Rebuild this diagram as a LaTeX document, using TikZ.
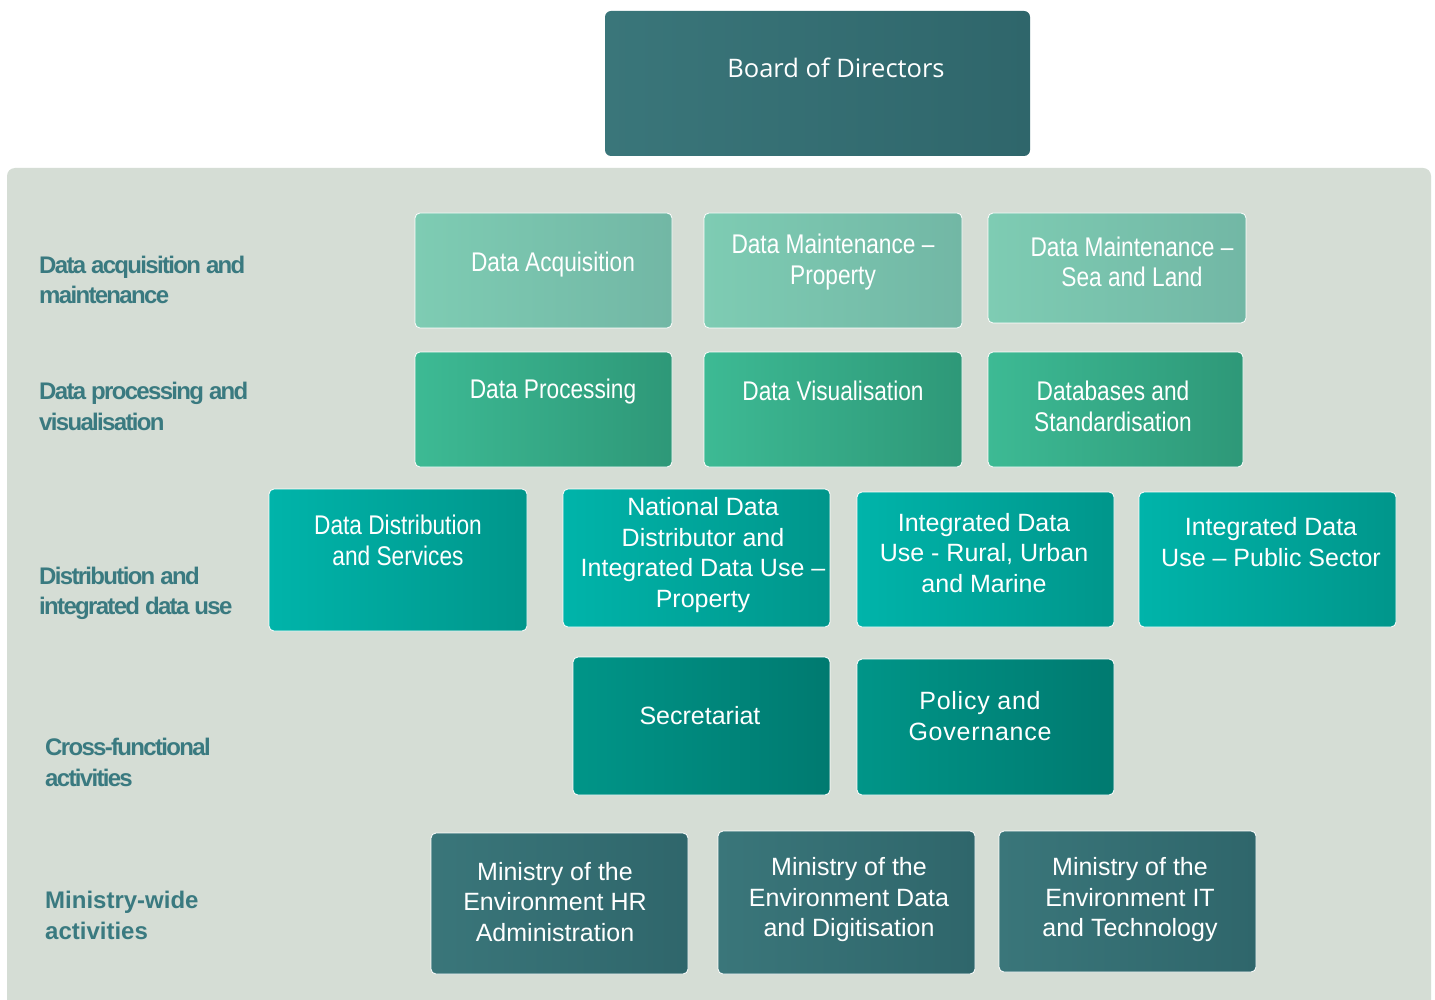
\documentclass[tikz,border=0pt]{standalone}
\usepackage{fontspec}
\setmainfont{Liberation Sans}
\newfontfamily\boardfont{Open Sans}
\newfontfamily\narrowfont[FakeStretch=0.84]{Liberation Sans}
\newfontfamily\tightlab[LetterSpace=-7]{Liberation Sans}
\newfontfamily\plainlab{Liberation Sans}
\newfontfamily\widefont[LetterSpace=3]{Liberation Sans}
\definecolor{panel}{HTML}{D5DDD5}
\definecolor{darkL}{HTML}{3A767A}
\definecolor{darkR}{HTML}{2F666B}
\definecolor{oneL}{HTML}{7ECCB3}
\definecolor{oneR}{HTML}{72B7A5}
\definecolor{twoL}{HTML}{3DBA94}
\definecolor{twoR}{HTML}{2E9878}
\definecolor{thrL}{HTML}{00B4AA}
\definecolor{thrR}{HTML}{00968B}
\definecolor{fouL}{HTML}{009588}
\definecolor{fouR}{HTML}{007A70}
\definecolor{labcol}{HTML}{3A7A80}
\tikzset{
  orgbox/.style={draw=white, line width=0.8pt, rounded corners=5pt, inner sep=0pt},
  rowone/.style={orgbox, left color=oneL, right color=oneR},
  rowtwo/.style={orgbox, left color=twoL, right color=twoR},
  rowthree/.style={orgbox, left color=thrL, right color=thrR},
  rowfour/.style={orgbox, left color=fouL, right color=fouR},
  rowfive/.style={orgbox, left color=darkL, right color=darkR},
  boardbox/.style={rounded corners=6pt, inner sep=0pt, left color=darkL, right color=darkR},
  txt/.style={text=white, align=center, inner sep=0pt, font=\fontsize{25}{30.5}\selectfont},
  ntxt/.style={txt, font=\narrowfont\fontsize{27}{30.5}\selectfont},
  lab/.style={text=labcol, align=left, anchor=west, inner sep=0pt, font=\tightlab\bfseries\fontsize{24}{30.5}\selectfont},
  labp/.style={lab, font=\plainlab\bfseries\fontsize{24}{30.5}\selectfont}
}
\begin{document}
\begin{tikzpicture}[x=1pt,y=-1pt]
\useasboundingbox (0,0) rectangle (1435,1000);
\fill[white] (0,0) rectangle (1435,1000);
\fill[panel, rounded corners=8pt] (7,168) rectangle (1431,1020);
% board
\node[boardbox, minimum width=425, minimum height=145] (board) at (817.5,83.5) {};
\node[text=white, inner sep=0pt, font=\boardfont\fontsize{25.5}{30}\selectfont] (boardt) at (836,68) {Board of Directors};
% row labels
\node[lab] (lab1) at (39,280) {Data acquisition and\\maintenance};
\node[lab] (lab2) at (39,406.5) {Data processing and\\visualisation};
\node[lab] (lab3) at (39,593.5) {Distribution and\\integrated data use};
\node[lab] (lab4) at (45,762.5) {Cross-functional\\activities};
\node[labp] (lab5) at (45,915.5) {Ministry-wide\\activities};
% row 1
\node[rowone, minimum width=257, minimum height=115] (dacq) at (543.5,270.5) {};
\node[ntxt] (dacqt) at (553,265) {Data Acquisition};
\node[rowone, minimum width=258, minimum height=115] (dmp) at (833,270.5) {};
\node[ntxt] (dmpt) at (833,262) {Data Maintenance –\\Property};
\node[rowone, minimum width=258, minimum height=110] (dms) at (1117,268) {};
\node[ntxt] (dmst) at (1132,262) {Data Maintenance –\\Sea and Land};
% row 2
\node[rowtwo, minimum width=257, minimum height=115] (dproc) at (543.5,409.5) {};
\node[ntxt] (dproct) at (553,392) {Data Processing};
\node[rowtwo, minimum width=258, minimum height=115] (dvis) at (833,409.5) {};
\node[ntxt] (dvist) at (833,391) {Data Visualisation};
\node[rowtwo, minimum width=255, minimum height=115] (dbs) at (1115.5,409.5) {};
\node[ntxt] (dbst) at (1113,406.5) {Databases and\\Standardisation};
% row 3
\node[rowthree, minimum width=258, minimum height=142] (ddist) at (398,560) {};
\node[ntxt] (ddistt) at (398,540.5) {Data Distribution\\and Services};
\node[rowthree, minimum width=267, minimum height=138] (ndd) at (696.5,558) {};
\node[txt] (nddt) at (703,555) {National Data\\Distributor and\\Integrated Data Use –\\Property};
\node[rowthree, minimum width=257, minimum height=135] (idr) at (985.5,559.5) {};
\node[txt] (idrt) at (984,553) {Integrated Data\\Use - Rural, Urban\\and Marine};
\node[rowthree, minimum width=257, minimum height=135] (idp) at (1267.5,559.5) {};
\node[txt] (idpt) at (1271,542) {Integrated Data\\Use – Public Sector};
% row 4
\node[rowfour, minimum width=257, minimum height=138] (sec) at (701.5,726) {};
\node[txt] (sect) at (700,716) {Secretariat};
\node[rowfour, minimum width=257, minimum height=136] (pol) at (985.5,727) {};
\node[txt, font=\widefont\fontsize{25}{30.5}\selectfont] (polt) at (980,716) {Policy and\\Governance};
% row 5
\node[rowfive, minimum width=257, minimum height=141] (hr) at (559.5,903.5) {};
\node[txt] (hrt) at (555,902) {Ministry of the\\Environment HR\\Administration};
\node[rowfive, minimum width=257, minimum height=143] (dd) at (846.5,902.5) {};
\node[txt] (ddt) at (849,900) {Ministry of the\\Environment Data\\and Digitisation};
\node[rowfive, minimum width=257, minimum height=141] (it) at (1127.5,901.5) {};
\node[txt] (itt) at (1130,900) {Ministry of the\\Environment IT\\and Technology};
\end{tikzpicture}
\end{document}
